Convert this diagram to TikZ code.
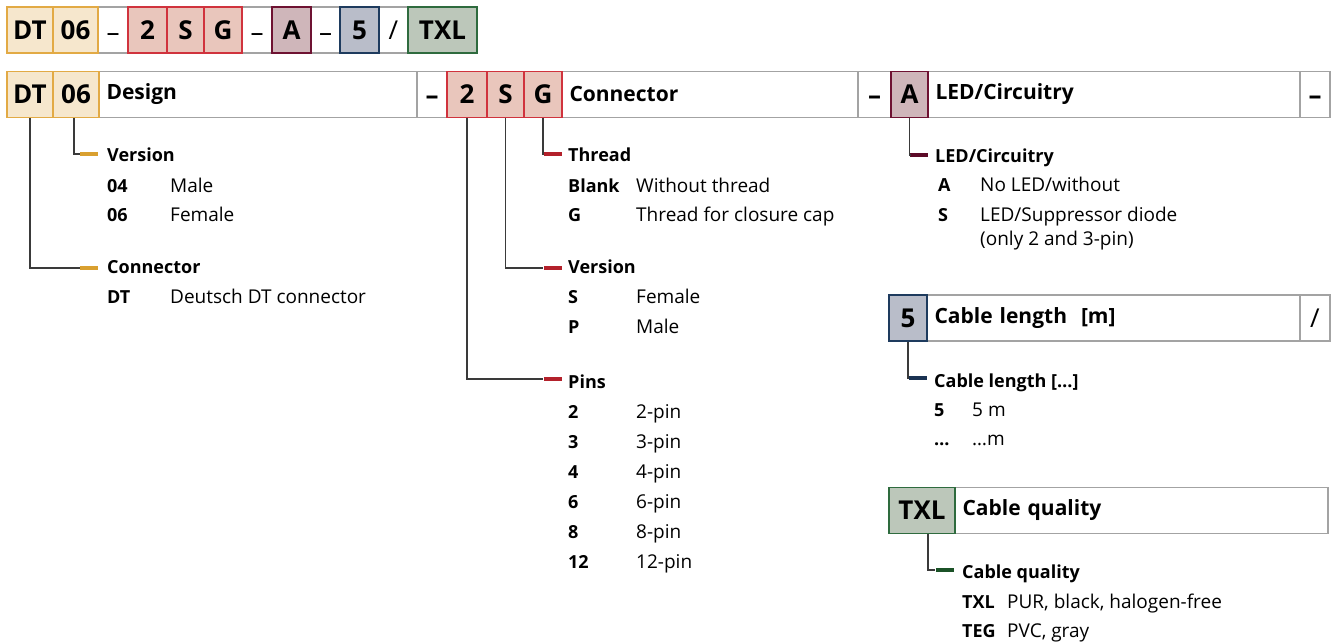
\documentclass[tikz,border=0pt]{standalone}
\usepackage{fontspec}
\setmainfont{Open Sans}
\usetikzlibrary{positioning}

\definecolor{framegray}{HTML}{A3A3A3}
\definecolor{treegray}{HTML}{3A3A3A}
\definecolor{goldfill}{HTML}{F6E7CD}
\definecolor{goldline}{HTML}{E2AA45}
\definecolor{goldtick}{HTML}{D9A030}
\definecolor{redfill}{HTML}{E9C6BC}
\definecolor{redline}{HTML}{D0333D}
\definecolor{redtick}{HTML}{B3212B}
\definecolor{plumfill}{HTML}{CFB6BA}
\definecolor{plumline}{HTML}{6E1232}
\definecolor{plumtick}{HTML}{5C0A28}
\definecolor{bluefill}{HTML}{B9BDC9}
\definecolor{blueline}{HTML}{1E3B5E}
\definecolor{bluetick}{HTML}{1A3252}
\definecolor{greenfill}{HTML}{BCC7BA}
\definecolor{greenline}{HTML}{2E6B3E}
\definecolor{greentick}{HTML}{1B5227}

\newcommand{\codefont}{\fontsize{26}{30}\selectfont\bfseries}
\newcommand{\namefont}{\fontsize{21}{25}\selectfont\bfseries}
\newcommand{\entryfont}{\fontsize{19}{23}\selectfont}
\newcommand{\keyfont}{\fontsize{18}{23}\selectfont\bfseries}
\newcommand{\lowdash}{\raisebox{-12pt}[0pt][0pt]{\mdseries –}}
\newcommand{\middash}{\raisebox{-10pt}[0pt][0pt]{–}}

\begin{document}
\begin{tikzpicture}[x=1pt,y=-1pt,
  every node/.style={inner sep=0pt},
  cell/.style={draw=framegray, line width=1.2pt, minimum height=46pt, font=\codefont},
  namecell/.style={cell, font=\namefont, text width=#1, align=left, inner xsep=7.5pt},
  goldcell/.style={fill=goldfill, draw=goldline},
  redcell/.style={fill=redfill, draw=redline},
  plumcell/.style={fill=plumfill, draw=plumline},
  bluecell/.style={fill=bluefill, draw=blueline},
  greencell/.style={fill=greenfill, draw=greenline},
  tickbar/.style={fill=#1, minimum width=18pt, minimum height=4pt},
  tree/.style={draw=treegray, line width=1.2pt},
  subhead/.style={anchor=base west, font=\keyfont},
  codekey/.style={anchor=base west, font=\keyfont},
  codeval/.style={anchor=base west, font=\entryfont}]

\fill[white] (0,0) rectangle (1336,644);

% order code
\node[cell, minimum width=30pt] (tdasha) at (113,30) {\lowdash};
\node[cell, minimum width=30pt] (tdashb) at (257,30) {\lowdash};
\node[cell, minimum width=29pt] (tdashc) at (325.5,30) {\lowdash};
\node[cell, minimum width=29pt] (tslash) at (393.5,30) {\mdseries /};
\node[cell, goldcell, minimum width=46pt] (tdt) at (30,30) {DT};
\node[cell, goldcell, minimum width=45pt] (tzs) at (75.5,30) {06};
\node[cell, redcell, minimum width=39pt] (ttwo) at (147.5,30) {2};
\node[cell, redcell, minimum width=37pt] (ts) at (185.5,30) {S};
\node[cell, redcell, minimum width=38pt] (tg) at (223,30) {G};
\node[cell, plumcell, minimum width=39pt] (ta) at (291.5,30) {A};
\node[cell, bluecell, minimum width=39pt] (tfive) at (359.5,30) {5};
\node[cell, greencell, minimum width=69pt] (ttxl) at (442.5,30) {TXL};

% header row
\node[namecell=303pt] (hdesign) at (258,94.5) {Design};
\node[cell, minimum width=30pt] (hdasha) at (432,94.5) {\middash};
\node[namecell=281pt] (hconn) at (710,94.5) {Connector};
\node[cell, minimum width=33pt] (hdashb) at (874.5,94.5) {\middash};
\node[namecell=357pt] (hled) at (1114,94.5) {LED/Circuitry};
\node[cell, minimum width=30pt] (hdashc) at (1315,94.5) {\middash};
\node[cell, goldcell, minimum width=46pt] (hdt) at (30,94.5) {DT};
\node[cell, goldcell, minimum width=46pt] (hzs) at (76,94.5) {06};
\node[cell, redcell, minimum width=40pt] (htwo) at (467,94.5) {2};
\node[cell, redcell, minimum width=37pt] (hs) at (505.5,94.5) {S};
\node[cell, redcell, minimum width=38pt] (hg) at (543,94.5) {G};
\node[cell, plumcell, minimum width=37pt] (ha) at (909.5,94.5) {A};

% cable rows
\node[namecell=358pt] (hlen) at (1113.5,318) {Cable length~ [m]};
\node[cell, minimum width=30pt] (hslash) at (1315,318) {\mdseries /};
\node[cell, bluecell, minimum width=38pt] (hfive) at (908,318) {5};
\node[namecell=358pt] (hqual) at (1141.5,510.5) {Cable quality};
\node[cell, greencell, minimum width=66pt] (htxl) at (922,510.5) {TXL};

% ticks
\node[tickbar=goldtick] (kver) at (89,154) {};
\node[tickbar=goldtick] (kdt) at (89,268) {};
\node[tickbar=redtick] (kthr) at (552.5,154) {};
\node[tickbar=redtick] (kvers) at (552.5,268) {};
\node[tickbar=redtick] (kpins) at (552.5,379) {};
\node[tickbar=plumtick] (kled) at (919,155) {};
\node[tickbar=bluetick] (klen) at (917.5,378) {};
\node[tickbar=greentick] (kqual) at (944.5,570) {};

\draw[tree] (hdt.south) |- (kdt.west);
\draw[tree] ([xshift=-2pt]hzs.south) |- (kver.west);
\draw[tree] (htwo.south) |- (kpins.west);
\draw[tree] (hs.south) |- (kvers.west);
\draw[tree] (hg.south) |- (kthr.west);
\draw[tree] (ha.south) |- (kled.west);
\draw[tree] (hfive.south) |- (klen.west);
\draw[tree] ([xshift=6pt]htxl.south) |- (kqual.west);

% design
\node[subhead] (sver) at (107,162) {Version};
\node[codekey] (kzf) at (107,193) {04};
\node[codeval] (vzf) at (170,193) {Male};
\node[codekey] (kzs) at (107,222) {06};
\node[codeval] (vzs) at (170,222) {Female};
\node[subhead] (sdt) at (107,274) {Connector};
\node[codekey] (kdtk) at (107,304) {DT};
\node[codeval] (vdt) at (170,304) {Deutsch DT connector};

% connector
\node[subhead] (sthr) at (568,162) {Thread};
\node[codekey] (kblank) at (568,193) {Blank};
\node[codeval] (vblank) at (636,193) {Without thread};
\node[codekey] (kgk) at (568,222) {G};
\node[codeval] (vg) at (636,222) {Thread for closure cap};
\node[subhead] (svers) at (568,274) {Version};
\node[codekey] (ksk) at (568,304) {S};
\node[codeval] (vs) at (636,304) {Female};
\node[codekey] (kpk) at (568,334) {P};
\node[codeval] (vp) at (636,334) {Male};
\node[subhead] (spins) at (568,388) {Pins};
\node[codekey] (kp2) at (568,418) {2};
\node[codeval] (vp2) at (636,418) {2-pin};
\node[codekey] (kp3) at (568,448) {3};
\node[codeval] (vp3) at (636,448) {3-pin};
\node[codekey] (kp4) at (568,478) {4};
\node[codeval] (vp4) at (636,478) {4-pin};
\node[codekey] (kp6) at (568,508) {6};
\node[codeval] (vp6) at (636,508) {6-pin};
\node[codekey] (kp8) at (568,538) {8};
\node[codeval] (vp8) at (636,538) {8-pin};
\node[codekey] (kp12) at (568,568) {12};
\node[codeval] (vp12) at (636,568) {12-pin};

% led
\node[subhead] (sled) at (935,163) {LED/Circuitry};
\node[codekey] (kak) at (938,192) {A};
\node[codeval] (va) at (980,192) {No LED/without};
\node[codekey] (kled) at (938,222) {S};
\node[codeval] (vled) at (980,222) {LED/Suppressor diode};
\node[codeval] (vonly) at (980,246) {(only 2 and 3-pin)};

% cable
\node[subhead] (slen) at (934,387) {Cable length […]};
\node[codekey] (kfive) at (934,416) {5};
\node[codeval] (vfive) at (972,416) {5 m};
\node[codekey] (kdots) at (934,445) {…};
\node[codeval] (vdots) at (972,445) {…m};
\node[subhead] (squal) at (962,578) {Cable quality};
\node[codekey] (ktxl) at (962,608) {TXL};
\node[codeval] (vtxl) at (1007,608) {PUR, black, halogen-free};
\node[codekey] (kteg) at (962,637) {TEG};
\node[codeval] (vteg) at (1007,637) {PVC, gray};
\end{tikzpicture}
\end{document}
